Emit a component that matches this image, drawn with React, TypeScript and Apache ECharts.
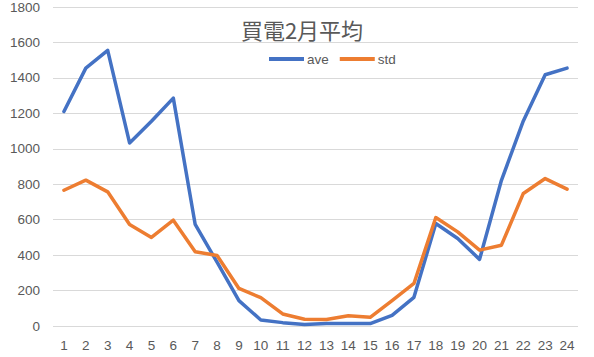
import React, { useEffect, useRef } from "react";
import * as echarts from "echarts";

const categories = ["1","2","3","4","5","6","7","8","9","10","11","12","13","14","15","16","17","18","19","20","21","22","23","24"];
const aveValues = [1210, 1455, 1555, 1033, 1155, 1286, 573, 360, 143, 34, 19, 9, 14, 14, 14, 60, 162, 578, 494, 376, 822, 1157, 1418, 1455];
const stdValues = [766, 823, 757, 573, 500, 597, 419, 398, 212, 160, 68, 38, 37, 58, 49, 143, 240, 612, 531, 428, 456, 748, 832, 772];
const titleText = "買電2月平均";

export default function App() {
  const ref = useRef<HTMLDivElement>(null);
  useEffect(() => {
    if (!ref.current) return;
    const chart = echarts.init(ref.current, undefined, { renderer: "svg" });
    const font = "'Liberation Sans', 'Noto Sans', sans-serif";
    chart.setOption({
      animation: false,
      backgroundColor: "#ffffff",
      title: {
        text: titleText,
        left: 297,
        textAlign: "center",
        top: 13,
        textStyle: { fontFamily: "'Noto Sans CJK JP', sans-serif", fontSize: 22, fontWeight: "normal", color: "#595959" },
      },
      legend: {
        left: 269,
        top: 52,
        padding: 0,
        itemWidth: 35,
        itemHeight: 4,
        itemGap: 11,
        icon: "rect",
        textStyle: { fontFamily: font, fontSize: 13.5, color: "#595959", padding: [0, 0, 0, -2] },
        data: ["ave", "std"],
      },
      grid: { left: 53, right: 16, top: 6.5, bottom: 31, containLabel: false },
      xAxis: {
        type: "category",
        data: categories,
        boundaryGap: true,
        axisLine: { show: false },
        axisTick: { show: false },
        axisLabel: { fontFamily: font, fontSize: 13.5, color: "#595959", margin: 12 },
      },
      yAxis: {
        type: "value",
        min: 0,
        max: 1800,
        interval: 200,
        axisLine: { show: false },
        axisTick: { show: false },
        axisLabel: { fontFamily: font, fontSize: 13.5, color: "#595959", margin: 13, formatter: (v: number) => String(v) },
        splitLine: { lineStyle: { color: "#d9d9d9", width: 1 } },
      },
      series: [
        {
          name: "ave",
          type: "line",
          data: aveValues,
          showSymbol: false,
          symbol: "none",
          lineStyle: { color: "#4472C4", width: 3.5, cap: "round", join: "round" },
          itemStyle: { color: "#4472C4" },
        },
        {
          name: "std",
          type: "line",
          data: stdValues,
          showSymbol: false,
          symbol: "none",
          lineStyle: { color: "#ED7D31", width: 3.5, cap: "round", join: "round" },
          itemStyle: { color: "#ED7D31" },
        },
      ],
    });
    return () => chart.dispose();
  }, []);
  return <div ref={ref} style={{ position: "absolute", left: 0, top: 0, width: 594, height: 357 }} />;
}
